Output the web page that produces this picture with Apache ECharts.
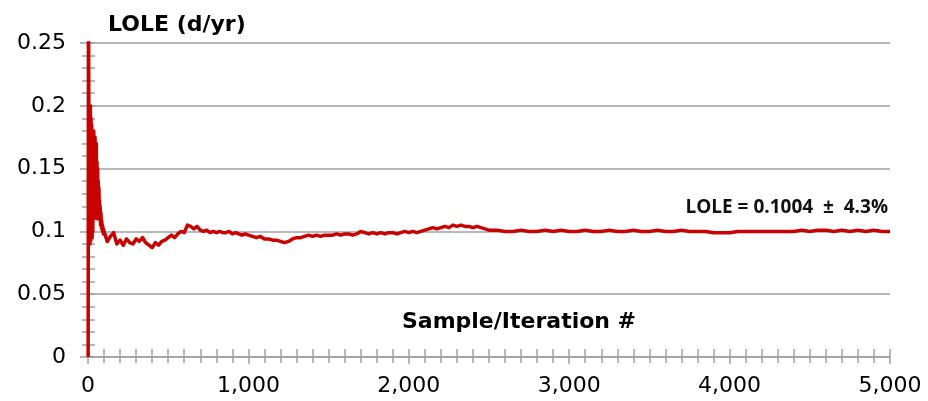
<!DOCTYPE html>
<html>
<head>
<meta charset="utf-8">
<script src="https://cdn.jsdelivr.net/npm/echarts@6/dist/echarts.min.js"></script>
<style>html,body{margin:0;padding:0;background:#fff}#c{width:928px;height:401px}</style>
</head>
<body>
<div id="c"></div>
<script>
// Iteration numbers and running LOLE estimate (d/yr)
const iterations = [
  1,2,3,4,5,6,7,8,9,10,11,12,13,14,15,16,17,18,19,20,21,22,23,24,25,26,27,28,29,30,
  32,34,36,38,40,42,44,46,48,50,52,54,56,58,60,62,64,66,68,70,72,74,76,78,80,
  82,84,86,88,90,92,94,96,98,
  100,120,140,160,180,200,220,240,260,280,300,320,340,360,380,400,420,440,460,480,
  500,520,540,560,580,600,620,640,660,680,700,720,740,760,780,800,820,840,860,880,
  900,920,940,960,980,1000,
  1025,1050,1075,1100,1125,1150,1175,1200,1225,1250,1275,1300,1325,1350,1375,1400,
  1425,1450,1475,1500,1525,1550,1575,1600,1625,1650,1675,1700,1725,1750,1775,1800,
  1825,1850,1875,1900,1925,1950,1975,2000,2025,2050,2075,2100,2125,2150,2175,2200,
  2225,2250,2275,2300,2325,2350,2375,2400,2425,2450,2475,2500,
  2550,2600,2650,2700,2750,2800,2850,2900,2950,3000,3050,3100,3150,3200,3250,
  3300,3350,3400,3450,3500,3550,3600,3650,3700,3750,3800,3850,3900,3950,4000,
  4050,4100,4150,4200,4250,4300,4350,4400,4450,4500,4550,4600,4650,4700,4750,
  4800,4850,4900,4950,5000
];
const lole = [
  0,0,0.333,0.25,0.2,0.1,0.19,0.095,0.2,0.12,0.18,0.09,0.17,0.11,0.2,0.1,0.16,0.093,
  0.19,0.12,0.175,0.1,0.185,0.11,0.16,0.095,0.17,0.115,0.18,0.1,
  0.17,0.12,0.18,0.11,0.165,0.13,0.175,0.115,0.16,0.125,0.17,0.12,0.155,0.11,0.15,
  0.125,0.14,0.11,0.135,0.115,0.125,0.11,0.12,0.105,0.115,
  0.11,0.103,0.108,0.101,0.105,0.1,0.103,0.098,0.101,
  0.1,0.092,0.096,0.099,0.09,0.093,0.089,0.094,0.091,0.09,0.094,0.092,0.095,0.091,
  0.089,0.087,0.091,0.089,0.092,0.093,
  0.095,0.097,0.095,0.098,0.1,0.099,0.105,0.104,0.102,0.104,0.101,0.1,0.101,0.099,
  0.1,0.099,0.1,0.099,0.099,0.1,
  0.098,0.099,0.098,0.097,0.098,0.097,
  0.096,0.095,0.096,0.094,0.094,0.093,0.093,0.092,0.091,0.092,0.094,0.095,0.095,0.096,
  0.097,0.096,0.097,0.096,0.097,0.097,0.097,0.098,0.097,0.098,0.098,0.097,0.098,0.1,
  0.099,0.098,0.099,0.098,0.099,0.098,0.099,0.099,0.098,0.099,0.1,0.099,0.1,0.099,
  0.1,0.101,0.102,0.103,0.102,0.103,0.104,0.103,0.105,0.104,0.105,0.104,0.104,0.103,
  0.104,0.103,0.102,0.101,
  0.101,0.1,0.1,0.101,0.1,0.1,0.101,0.1,0.101,0.1,0.1,0.101,0.1,0.1,0.101,
  0.1,0.1,0.101,0.1,0.1,0.101,0.1,0.1,0.101,0.1,0.1,0.1,0.099,0.099,0.099,
  0.1,0.1,0.1,0.1,0.1,0.1,0.1,0.1,0.101,0.1,0.101,0.101,0.1,0.101,0.1,
  0.101,0.1,0.101,0.1,0.1
];
const yTicks = [0, 0.05, 0.1, 0.15, 0.2, 0.25];
const xTicks = [0, 1000, 2000, 3000, 4000, 5000];
const titleText = 'LOLE (d/yr)';
const xTitleText = 'Sample/Iteration #';
const noteText = 'LOLE = 0.1004  \u00b1  4.3%';

const data = iterations.map((x, i) => [x, lole[i]]);
const gridColor = '#a0a0a0';
const labelFont = 'DejaVu Sans';

const chart = echarts.init(document.getElementById('c'), null, {renderer: 'canvas'});
chart.setOption({
  animation: false,
  backgroundColor: '#fff',
  grid: {left: 88, right: 38, top: 43, bottom: 44, containLabel: false},
  xAxis: [{
    type: 'value', min: xTicks[0], max: xTicks[xTicks.length - 1], interval: 1000,
    axisLine: {show: true, lineStyle: {color: gridColor, width: 1.5}},
    axisTick: {show: true, length: 7, lineStyle: {color: gridColor, width: 1.5}},
    minorTick: {show: true, splitNumber: 10, length: 6, lineStyle: {color: gridColor, width: 1.5}},
    splitLine: {show: false},
    axisLabel: {fontSize: 22, fontFamily: labelFont, color: '#000', margin: 18,
      formatter: v => v.toLocaleString('en-US')}
  }, {
    type: 'value', position: 'bottom', min: xTicks[0], max: xTicks[xTicks.length - 1], interval: 1000,
    axisLine: {show: false},
    axisTick: {show: true, inside: true, length: 8, lineStyle: {color: gridColor, width: 1.5}},
    minorTick: {show: true, splitNumber: 10, length: 8, lineStyle: {color: gridColor, width: 1.5}},
    splitLine: {show: false},
    axisLabel: {show: false}
  }],
  yAxis: [{
    type: 'value', min: yTicks[0], max: yTicks[yTicks.length - 1], interval: 0.05,
    axisLine: {show: true, lineStyle: {color: gridColor, width: 1.5}},
    axisTick: {show: true, length: 8, lineStyle: {color: gridColor, width: 1.5}},
    minorTick: {show: true, splitNumber: 5, length: 6, lineStyle: {color: gridColor, width: 1.5}},
    splitLine: {show: true, lineStyle: {color: gridColor, width: 1.5}},
    axisLabel: {fontSize: 22, fontFamily: labelFont, color: '#000', margin: 22,
      formatter: v => String(parseFloat(v.toFixed(2)))}
  }, {
    type: 'value', position: 'left', min: yTicks[0], max: yTicks[yTicks.length - 1], interval: 0.05,
    axisLine: {show: false},
    axisTick: {show: true, inside: true, length: 7, lineStyle: {color: gridColor, width: 1.5}},
    minorTick: {show: true, splitNumber: 5, length: 7, lineStyle: {color: gridColor, width: 1.5}},
    splitLine: {show: false},
    axisLabel: {show: false}
  }],
  series: [{
    type: 'line', data: data, xAxisIndex: 0, yAxisIndex: 0,
    showSymbol: false, symbol: 'none', clip: true,
    lineStyle: {color: '#c80000', width: 3.5, join: 'round'},
    z: 5
  }],
  graphic: [
    {type: 'text', x: 108, y: 25, style: {text: titleText, font: 'bold 22px "DejaVu Sans"', fill: '#000', textAlign: 'left', textVerticalAlign: 'middle'}},
    {type: 'text', x: 519, y: 322, style: {text: xTitleText, font: 'bold 22px "DejaVu Sans"', fill: '#000', textAlign: 'center', textVerticalAlign: 'middle'}},
    {type: 'text', x: 888, y: 208, style: {text: noteText, font: 'bold 19px "Open Sans"', fill: '#111', textAlign: 'right', textVerticalAlign: 'middle'}}
  ]
});
</script>
</body>
</html>
